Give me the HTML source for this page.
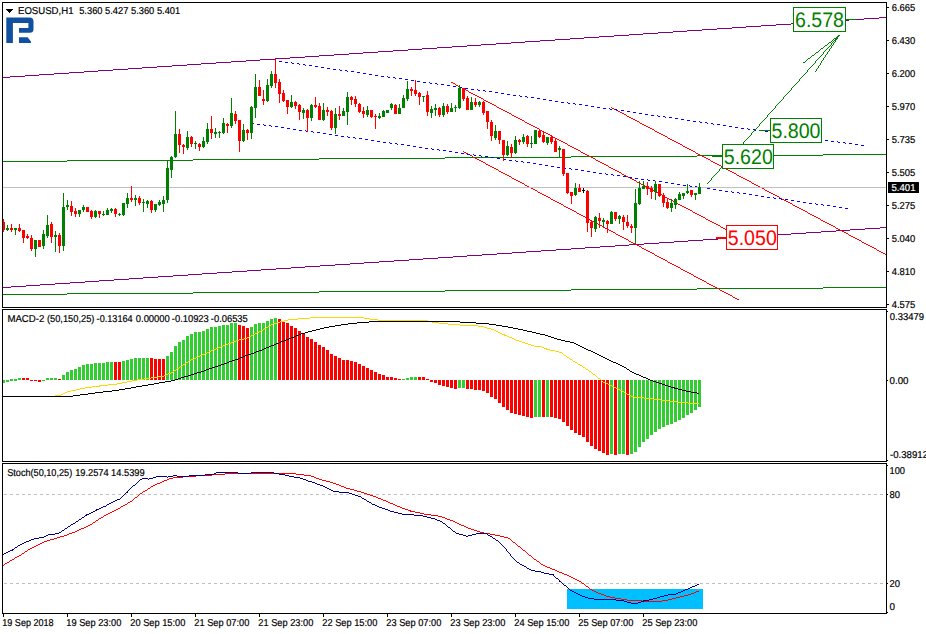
<!DOCTYPE html>
<html lang="en">
<head>
<meta charset="utf-8">
<title>EOSUSD,H1</title>
<style>
html,body{margin:0;padding:0;background:#fff;}
body{width:926px;height:634px;overflow:hidden;font-family:"Liberation Sans",sans-serif;}
svg text{font-family:"Liberation Sans",sans-serif;}
.aa{shape-rendering:geometricPrecision;text-rendering:geometricPrecision;}
</style>
</head>
<body>
<svg width="926" height="634" viewBox="0 0 926 634" shape-rendering="crispEdges" style="display:block"><defs><clipPath id="cm"><rect x="3" y="3" width="883" height="304"/></clipPath><clipPath id="c2"><rect x="3" y="310" width="883" height="151"/></clipPath><clipPath id="c3"><rect x="3" y="464" width="883" height="149"/></clipPath></defs><rect x="0" y="0" width="926" height="634" fill="#fff"/>
<g clip-path="url(#cm)">
<path fill="#008000" d="M3 161h64v1h-64zM67 160h126v1h-126zM193 159h126v1h-126zM319 158h126v1h-126zM445 157h126v1h-126zM571 156h126v1h-126zM697 155h126v1h-126zM823 154h63v1h-63z"/>
<path fill="#008000" d="M3 294h64v1h-64zM67 293h126v1h-126zM193 292h126v1h-126zM319 291h126v1h-126zM445 290h126v1h-126zM571 289h126v1h-126zM697 288h126v1h-126zM823 287h63v1h-63z"/>
<path fill="#800080" d="M3 77h7v1h-7zM10 76h15v1h-15zM25 75h14v1h-14zM39 74h15v1h-15zM54 73h15v1h-15zM69 72h15v1h-15zM84 71h14v1h-14zM98 70h15v1h-15zM113 69h15v1h-15zM128 68h14v1h-14zM142 67h15v1h-15zM157 66h15v1h-15zM172 65h15v1h-15zM187 64h14v1h-14zM201 63h15v1h-15zM216 62h15v1h-15zM231 61h15v1h-15zM246 60h14v1h-14zM260 59h15v1h-15zM275 58h15v1h-15zM290 57h15v1h-15zM305 56h14v1h-14zM319 55h15v1h-15zM334 54h15v1h-15zM349 53h14v1h-14zM363 52h15v1h-15zM378 51h15v1h-15zM393 50h15v1h-15zM408 49h14v1h-14zM422 48h15v1h-15zM437 47h15v1h-15zM452 46h15v1h-15zM467 45h14v1h-14zM481 44h15v1h-15zM496 43h15v1h-15zM511 42h14v1h-14zM525 41h15v1h-15zM540 40h15v1h-15zM555 39h15v1h-15zM570 38h14v1h-14zM584 37h15v1h-15zM599 36h15v1h-15zM614 35h15v1h-15zM629 34h14v1h-14zM643 33h15v1h-15zM658 32h15v1h-15zM673 31h14v1h-14zM687 30h15v1h-15zM702 29h15v1h-15zM717 28h15v1h-15zM732 27h14v1h-14zM746 26h15v1h-15zM761 25h15v1h-15zM776 24h15v1h-15zM791 23h14v1h-14zM805 22h15v1h-15zM820 21h15v1h-15zM835 20h14v1h-14zM849 19h15v1h-15zM864 18h15v1h-15zM879 17h7v1h-7z"/>
<path fill="#800080" d="M3 287h8v1h-8zM11 286h15v1h-15zM26 285h14v1h-14zM40 284h15v1h-15zM55 283h15v1h-15zM70 282h15v1h-15zM85 281h14v1h-14zM99 280h15v1h-15zM114 279h15v1h-15zM129 278h14v1h-14zM143 277h15v1h-15zM158 276h15v1h-15zM173 275h15v1h-15zM188 274h14v1h-14zM202 273h15v1h-15zM217 272h15v1h-15zM232 271h15v1h-15zM247 270h14v1h-14zM261 269h15v1h-15zM276 268h15v1h-15zM291 267h14v1h-14zM305 266h15v1h-15zM320 265h15v1h-15zM335 264h15v1h-15zM350 263h14v1h-14zM364 262h15v1h-15zM379 261h15v1h-15zM394 260h15v1h-15zM409 259h14v1h-14zM423 258h15v1h-15zM438 257h15v1h-15zM453 256h14v1h-14zM467 255h15v1h-15zM482 254h15v1h-15zM497 253h15v1h-15zM512 252h14v1h-14zM526 251h15v1h-15zM541 250h15v1h-15zM556 249h15v1h-15zM571 248h14v1h-14zM585 247h15v1h-15zM600 246h15v1h-15zM615 245h14v1h-14zM629 244h15v1h-15zM644 243h15v1h-15zM659 242h15v1h-15zM674 241h14v1h-14zM688 240h15v1h-15zM703 239h15v1h-15zM718 238h15v1h-15zM733 237h14v1h-14zM747 236h15v1h-15zM762 235h15v1h-15zM777 234h14v1h-14zM791 233h15v1h-15zM806 232h15v1h-15zM821 231h15v1h-15zM836 230h14v1h-14zM850 229h15v1h-15zM865 228h15v1h-15zM880 227h6v1h-6z"/>
<path fill="#ff0000" d="M451 82h2v1h-2zM453 83h2v1h-2zM455 84h1v1h-1zM456 85h2v1h-2zM458 86h2v1h-2zM460 87h2v1h-2zM462 88h2v1h-2zM464 89h2v1h-2zM466 90h2v1h-2zM468 91h1v1h-1zM469 92h2v1h-2zM471 93h2v1h-2zM473 94h2v1h-2zM475 95h2v1h-2zM477 96h2v1h-2zM479 97h2v1h-2zM481 98h2v1h-2zM483 99h1v1h-1zM484 100h2v1h-2zM486 101h2v1h-2zM488 102h2v1h-2zM490 103h2v1h-2zM492 104h2v1h-2zM494 105h2v1h-2zM496 106h1v1h-1zM497 107h2v1h-2zM499 108h2v1h-2zM501 109h2v1h-2zM503 110h2v1h-2zM505 111h2v1h-2zM507 112h2v1h-2zM509 113h2v1h-2zM511 114h1v1h-1zM512 115h2v1h-2zM514 116h2v1h-2zM516 117h2v1h-2zM518 118h2v1h-2zM520 119h2v1h-2zM522 120h2v1h-2zM524 121h1v1h-1zM525 122h2v1h-2zM527 123h2v1h-2zM529 124h2v1h-2zM531 125h2v1h-2zM533 126h2v1h-2zM535 127h2v1h-2zM537 128h2v1h-2zM539 129h1v1h-1zM540 130h2v1h-2zM542 131h2v1h-2zM544 132h2v1h-2zM546 133h2v1h-2zM548 134h2v1h-2zM550 135h2v1h-2zM552 136h1v1h-1zM553 137h2v1h-2zM555 138h2v1h-2zM557 139h2v1h-2zM559 140h2v1h-2zM561 141h2v1h-2zM563 142h2v1h-2zM565 143h2v1h-2zM567 144h1v1h-1zM568 145h2v1h-2zM570 146h2v1h-2zM572 147h2v1h-2zM574 148h2v1h-2zM576 149h2v1h-2zM578 150h2v1h-2zM580 151h1v1h-1zM581 152h2v1h-2zM583 153h2v1h-2zM585 154h2v1h-2zM587 155h2v1h-2zM589 156h2v1h-2zM591 157h2v1h-2zM593 158h2v1h-2zM595 159h1v1h-1zM596 160h2v1h-2zM598 161h2v1h-2zM600 162h2v1h-2zM602 163h2v1h-2zM604 164h2v1h-2zM606 165h2v1h-2zM608 166h1v1h-1zM609 167h2v1h-2zM611 168h2v1h-2zM613 169h2v1h-2zM615 170h2v1h-2zM617 171h2v1h-2zM619 172h2v1h-2zM621 173h1v1h-1zM622 174h2v1h-2zM624 175h2v1h-2zM626 176h2v1h-2zM628 177h2v1h-2zM630 178h2v1h-2zM632 179h2v1h-2zM634 180h2v1h-2zM636 181h1v1h-1zM637 182h2v1h-2zM639 183h2v1h-2zM641 184h2v1h-2zM643 185h2v1h-2zM645 186h2v1h-2zM647 187h2v1h-2zM649 188h1v1h-1zM650 189h2v1h-2zM652 190h2v1h-2zM654 191h2v1h-2zM656 192h2v1h-2zM658 193h2v1h-2zM660 194h2v1h-2zM662 195h2v1h-2zM664 196h1v1h-1zM665 197h2v1h-2zM667 198h2v1h-2zM669 199h2v1h-2zM671 200h2v1h-2zM673 201h2v1h-2zM675 202h2v1h-2zM677 203h1v1h-1zM678 204h2v1h-2zM680 205h2v1h-2zM682 206h2v1h-2zM684 207h2v1h-2zM686 208h2v1h-2zM688 209h2v1h-2zM690 210h2v1h-2zM692 211h1v1h-1zM693 212h2v1h-2zM695 213h2v1h-2zM697 214h2v1h-2zM699 215h2v1h-2zM701 216h2v1h-2zM703 217h2v1h-2zM705 218h1v1h-1zM706 219h2v1h-2zM708 220h2v1h-2zM710 221h2v1h-2zM712 222h2v1h-2zM714 223h2v1h-2zM716 224h2v1h-2zM718 225h2v1h-2zM720 226h1v1h-1zM721 227h2v1h-2zM723 228h2v1h-2zM725 229h2v1h-2z"/>
<path fill="#ff0000" d="M463 151h1v1h-1zM464 152h2v1h-2zM466 153h2v1h-2zM468 154h2v1h-2zM470 155h2v1h-2zM472 156h1v1h-1zM473 157h2v1h-2zM475 158h2v1h-2zM477 159h2v1h-2zM479 160h2v1h-2zM481 161h2v1h-2zM483 162h2v1h-2zM485 163h1v1h-1zM486 164h2v1h-2zM488 165h2v1h-2zM490 166h2v1h-2zM492 167h2v1h-2zM494 168h2v1h-2zM496 169h2v1h-2zM498 170h1v1h-1zM499 171h2v1h-2zM501 172h2v1h-2zM503 173h2v1h-2zM505 174h2v1h-2zM507 175h2v1h-2zM509 176h2v1h-2zM511 177h1v1h-1zM512 178h2v1h-2zM514 179h2v1h-2zM516 180h2v1h-2zM518 181h2v1h-2zM520 182h2v1h-2zM522 183h2v1h-2zM524 184h1v1h-1zM525 185h2v1h-2zM527 186h2v1h-2zM529 187h2v1h-2zM531 188h2v1h-2zM533 189h2v1h-2zM535 190h2v1h-2zM537 191h1v1h-1zM538 192h2v1h-2zM540 193h2v1h-2zM542 194h2v1h-2zM544 195h2v1h-2zM546 196h2v1h-2zM548 197h2v1h-2zM550 198h1v1h-1zM551 199h2v1h-2zM553 200h2v1h-2zM555 201h2v1h-2zM557 202h2v1h-2zM559 203h2v1h-2zM561 204h2v1h-2zM563 205h1v1h-1zM564 206h2v1h-2zM566 207h2v1h-2zM568 208h2v1h-2zM570 209h2v1h-2zM572 210h2v1h-2zM574 211h2v1h-2zM576 212h1v1h-1zM577 213h2v1h-2zM579 214h2v1h-2zM581 215h2v1h-2zM583 216h2v1h-2zM585 217h2v1h-2zM587 218h2v1h-2zM589 219h1v1h-1zM590 220h2v1h-2zM592 221h2v1h-2zM594 222h2v1h-2zM596 223h2v1h-2zM598 224h2v1h-2zM600 225h2v1h-2zM602 226h1v1h-1zM603 227h2v1h-2zM605 228h2v1h-2zM607 229h2v1h-2zM609 230h2v1h-2zM611 231h2v1h-2zM613 232h2v1h-2zM615 233h1v1h-1zM616 234h2v1h-2zM618 235h2v1h-2zM620 236h2v1h-2zM622 237h2v1h-2zM624 238h2v1h-2zM626 239h2v1h-2zM628 240h1v1h-1zM629 241h2v1h-2zM631 242h2v1h-2zM633 243h2v1h-2zM635 244h2v1h-2zM637 245h2v1h-2zM639 246h2v1h-2zM641 247h1v1h-1zM642 248h2v1h-2zM644 249h2v1h-2zM646 250h2v1h-2zM648 251h2v1h-2zM650 252h2v1h-2zM652 253h2v1h-2zM654 254h1v1h-1zM655 255h2v1h-2zM657 256h2v1h-2zM659 257h2v1h-2zM661 258h2v1h-2zM663 259h2v1h-2zM665 260h2v1h-2zM667 261h1v1h-1zM668 262h2v1h-2zM670 263h2v1h-2zM672 264h2v1h-2zM674 265h2v1h-2zM676 266h2v1h-2zM678 267h2v1h-2zM680 268h1v1h-1zM681 269h2v1h-2zM683 270h2v1h-2zM685 271h2v1h-2zM687 272h2v1h-2zM689 273h2v1h-2zM691 274h2v1h-2zM693 275h1v1h-1zM694 276h2v1h-2zM696 277h2v1h-2zM698 278h2v1h-2zM700 279h2v1h-2zM702 280h2v1h-2zM704 281h2v1h-2zM706 282h1v1h-1zM707 283h2v1h-2zM709 284h2v1h-2zM711 285h2v1h-2zM713 286h2v1h-2zM715 287h2v1h-2zM717 288h2v1h-2zM719 289h1v1h-1zM720 290h2v1h-2zM722 291h2v1h-2zM724 292h2v1h-2zM726 293h2v1h-2zM728 294h2v1h-2zM730 295h2v1h-2zM732 296h1v1h-1zM733 297h2v1h-2zM735 298h2v1h-2zM737 299h2v1h-2z"/>
<path fill="#ff0000" d="M611 107h1v1h-1zM612 108h2v1h-2zM614 109h2v1h-2zM616 110h2v1h-2zM618 111h2v1h-2zM620 112h2v1h-2zM622 113h2v1h-2zM624 114h2v1h-2zM626 115h1v1h-1zM627 116h2v1h-2zM629 117h2v1h-2zM631 118h2v1h-2zM633 119h2v1h-2zM635 120h2v1h-2zM637 121h2v1h-2zM639 122h1v1h-1zM640 123h2v1h-2zM642 124h2v1h-2zM644 125h2v1h-2zM646 126h2v1h-2zM648 127h2v1h-2zM650 128h2v1h-2zM652 129h2v1h-2zM654 130h1v1h-1zM655 131h2v1h-2zM657 132h2v1h-2zM659 133h2v1h-2zM661 134h2v1h-2zM663 135h2v1h-2zM665 136h2v1h-2zM667 137h1v1h-1zM668 138h2v1h-2zM670 139h2v1h-2zM672 140h2v1h-2zM674 141h2v1h-2zM676 142h2v1h-2zM678 143h2v1h-2zM680 144h2v1h-2zM682 145h1v1h-1zM683 146h2v1h-2zM685 147h2v1h-2zM687 148h2v1h-2zM689 149h2v1h-2zM691 150h2v1h-2zM693 151h2v1h-2zM695 152h1v1h-1zM696 153h2v1h-2zM698 154h2v1h-2zM700 155h2v1h-2zM702 156h2v1h-2zM704 157h2v1h-2zM706 158h2v1h-2zM708 159h2v1h-2zM710 160h1v1h-1zM711 161h2v1h-2zM713 162h2v1h-2zM715 163h2v1h-2zM717 164h2v1h-2zM719 165h2v1h-2zM721 166h2v1h-2zM723 167h1v1h-1zM724 168h2v1h-2zM726 169h2v1h-2zM728 170h2v1h-2zM730 171h2v1h-2zM732 172h2v1h-2zM734 173h2v1h-2zM736 174h1v1h-1zM737 175h2v1h-2zM739 176h2v1h-2zM741 177h2v1h-2zM743 178h2v1h-2zM745 179h2v1h-2zM747 180h2v1h-2zM749 181h2v1h-2zM751 182h1v1h-1zM752 183h2v1h-2zM754 184h2v1h-2zM756 185h2v1h-2zM758 186h2v1h-2zM760 187h2v1h-2zM762 188h2v1h-2zM764 189h1v1h-1zM765 190h2v1h-2zM767 191h2v1h-2zM769 192h2v1h-2zM771 193h2v1h-2zM773 194h2v1h-2zM775 195h2v1h-2zM777 196h2v1h-2zM779 197h1v1h-1zM780 198h2v1h-2zM782 199h2v1h-2zM784 200h2v1h-2zM786 201h2v1h-2zM788 202h2v1h-2zM790 203h2v1h-2zM792 204h1v1h-1zM793 205h2v1h-2zM795 206h2v1h-2zM797 207h2v1h-2zM799 208h2v1h-2zM801 209h2v1h-2zM803 210h2v1h-2zM805 211h2v1h-2zM807 212h1v1h-1zM808 213h2v1h-2zM810 214h2v1h-2zM812 215h2v1h-2zM814 216h2v1h-2zM816 217h2v1h-2zM818 218h2v1h-2zM820 219h1v1h-1zM821 220h2v1h-2zM823 221h2v1h-2zM825 222h2v1h-2zM827 223h2v1h-2zM829 224h2v1h-2zM831 225h2v1h-2zM833 226h2v1h-2zM835 227h1v1h-1zM836 228h2v1h-2zM838 229h2v1h-2zM840 230h2v1h-2zM842 231h2v1h-2zM844 232h2v1h-2zM846 233h2v1h-2zM848 234h1v1h-1zM849 235h2v1h-2zM851 236h2v1h-2zM853 237h2v1h-2zM855 238h2v1h-2zM857 239h2v1h-2zM859 240h2v1h-2zM861 241h1v1h-1zM862 242h2v1h-2zM864 243h2v1h-2zM866 244h2v1h-2zM868 245h2v1h-2zM870 246h2v1h-2zM872 247h2v1h-2zM874 248h2v1h-2zM876 249h1v1h-1zM877 250h2v1h-2zM879 251h2v1h-2zM881 252h2v1h-2zM883 253h2v1h-2zM885 254h1v1h-1z"/>
<path fill="#0000ff" d="M275 60h1v1h-1zM279 61h3v1h-3zM285 62h3v1h-3zM291 62h1v1h-1zM292 63h2v1h-2zM297 63h2v1h-2zM299 64h1v1h-1zM303 64h2v1h-2zM305 65h1v1h-1zM309 65h3v1h-3zM315 66h3v1h-3zM321 67h3v1h-3zM327 68h3v1h-3zM333 69h3v1h-3zM339 69h1v1h-1zM340 70h2v1h-2zM345 70h2v1h-2zM347 71h1v1h-1zM351 71h3v1h-3zM357 72h3v1h-3zM363 73h3v1h-3zM369 74h3v1h-3zM375 75h3v1h-3zM381 76h3v1h-3zM387 76h1v1h-1zM388 77h2v1h-2zM393 77h2v1h-2zM395 78h1v1h-1zM399 78h3v1h-3zM405 79h3v1h-3zM411 80h3v1h-3zM417 81h3v1h-3zM423 82h3v1h-3zM429 82h1v1h-1zM430 83h2v1h-2zM435 83h2v1h-2zM437 84h1v1h-1zM441 84h3v1h-3zM447 85h3v1h-3zM453 86h3v1h-3zM459 87h3v1h-3zM465 88h3v1h-3zM471 89h3v1h-3zM477 89h1v1h-1zM478 90h2v1h-2zM483 90h2v1h-2zM485 91h1v1h-1zM489 91h3v1h-3zM495 92h3v1h-3zM501 93h3v1h-3zM507 94h3v1h-3zM513 95h3v1h-3zM519 95h1v1h-1zM520 96h2v1h-2zM525 96h2v1h-2zM527 97h1v1h-1zM531 97h3v1h-3zM537 98h3v1h-3zM543 99h3v1h-3zM549 100h3v1h-3zM555 101h3v1h-3zM561 102h3v1h-3zM567 102h1v1h-1zM568 103h2v1h-2zM573 103h2v1h-2zM575 104h1v1h-1zM579 104h3v1h-3zM585 105h3v1h-3zM591 106h3v1h-3zM597 107h3v1h-3zM603 108h3v1h-3zM609 108h1v1h-1zM610 109h2v1h-2zM615 109h2v1h-2zM617 110h1v1h-1zM621 110h3v1h-3zM627 111h3v1h-3zM633 112h3v1h-3zM639 113h3v1h-3zM645 114h3v1h-3zM651 115h3v1h-3zM657 115h1v1h-1zM658 116h2v1h-2zM663 116h2v1h-2zM665 117h1v1h-1zM669 117h3v1h-3zM675 118h3v1h-3zM681 119h3v1h-3zM687 120h3v1h-3zM693 121h3v1h-3zM699 121h1v1h-1zM700 122h2v1h-2zM705 122h2v1h-2zM707 123h1v1h-1zM711 123h2v1h-2zM713 124h1v1h-1zM717 124h3v1h-3zM723 125h3v1h-3zM729 126h3v1h-3zM735 127h3v1h-3zM741 128h3v1h-3zM747 128h1v1h-1zM748 129h2v1h-2zM753 129h2v1h-2zM755 130h1v1h-1zM759 130h3v1h-3zM765 131h3v1h-3zM771 132h3v1h-3zM777 133h3v1h-3zM783 134h3v1h-3zM789 134h1v1h-1zM790 135h2v1h-2zM795 135h1v1h-1zM796 136h2v1h-2zM801 136h2v1h-2zM803 137h1v1h-1zM807 137h3v1h-3zM813 138h3v1h-3zM819 139h3v1h-3zM825 140h3v1h-3zM831 141h3v1h-3zM837 141h1v1h-1zM838 142h2v1h-2zM843 142h2v1h-2zM845 143h1v1h-1zM849 143h3v1h-3zM855 144h3v1h-3zM861 145h3v1h-3z"/>
<path fill="#0000ff" d="M253 123h1v1h-1zM257 124h3v1h-3zM263 124h1v1h-1zM264 125h2v1h-2zM269 125h2v1h-2zM271 126h1v1h-1zM275 126h3v1h-3zM281 127h3v1h-3zM287 128h3v1h-3zM293 129h3v1h-3zM299 130h3v1h-3zM305 130h1v1h-1zM306 131h2v1h-2zM311 131h2v1h-2zM313 132h1v1h-1zM317 132h3v1h-3zM323 133h3v1h-3zM329 134h3v1h-3zM335 135h3v1h-3zM341 136h3v1h-3zM347 136h1v1h-1zM348 137h2v1h-2zM353 137h2v1h-2zM355 138h1v1h-1zM359 138h3v1h-3zM365 139h3v1h-3zM371 140h3v1h-3zM377 141h3v1h-3zM383 142h3v1h-3zM389 142h1v1h-1zM390 143h2v1h-2zM395 143h2v1h-2zM397 144h1v1h-1zM401 144h3v1h-3zM407 145h3v1h-3zM413 146h3v1h-3zM419 147h3v1h-3zM425 148h3v1h-3zM431 148h1v1h-1zM432 149h2v1h-2zM437 149h2v1h-2zM439 150h1v1h-1zM443 150h3v1h-3zM449 151h3v1h-3zM455 152h3v1h-3zM461 153h3v1h-3zM467 154h3v1h-3zM473 154h1v1h-1zM474 155h2v1h-2zM479 155h2v1h-2zM481 156h1v1h-1zM485 156h3v1h-3zM491 157h3v1h-3zM497 158h3v1h-3zM503 159h3v1h-3zM509 160h3v1h-3zM515 160h1v1h-1zM516 161h2v1h-2zM521 161h2v1h-2zM523 162h1v1h-1zM527 162h3v1h-3zM533 163h3v1h-3zM539 164h3v1h-3zM545 165h3v1h-3zM551 166h3v1h-3zM557 167h3v1h-3zM563 167h1v1h-1zM564 168h2v1h-2zM569 168h2v1h-2zM571 169h1v1h-1zM575 169h3v1h-3zM581 170h3v1h-3zM587 171h3v1h-3zM593 172h3v1h-3zM599 173h3v1h-3zM605 173h1v1h-1zM606 174h2v1h-2zM611 174h2v1h-2zM613 175h1v1h-1zM617 175h3v1h-3zM623 176h3v1h-3zM629 177h3v1h-3zM635 178h3v1h-3zM641 179h3v1h-3zM647 179h1v1h-1zM648 180h2v1h-2zM653 180h2v1h-2zM655 181h1v1h-1zM659 181h3v1h-3zM665 182h3v1h-3zM671 183h3v1h-3zM677 184h3v1h-3zM683 185h3v1h-3zM689 185h1v1h-1zM690 186h2v1h-2zM695 186h2v1h-2zM697 187h1v1h-1zM701 187h3v1h-3zM707 188h3v1h-3zM713 189h3v1h-3zM719 190h3v1h-3zM725 191h3v1h-3zM731 191h1v1h-1zM732 192h2v1h-2zM737 192h2v1h-2zM739 193h1v1h-1zM743 193h3v1h-3zM749 194h3v1h-3zM755 195h3v1h-3zM761 196h3v1h-3zM767 197h3v1h-3zM773 197h1v1h-1zM774 198h2v1h-2zM779 198h2v1h-2zM781 199h1v1h-1zM785 199h3v1h-3zM791 200h3v1h-3zM797 201h3v1h-3zM803 202h3v1h-3zM809 203h3v1h-3zM815 203h1v1h-1zM816 204h2v1h-2zM821 204h2v1h-2zM823 205h1v1h-1zM827 205h3v1h-3zM833 206h3v1h-3zM839 207h3v1h-3zM845 208h3v1h-3z"/>
<path fill="#008000" d="M707 183h1v1h-1zM708 182h1v1h-1zM709 181h1v1h-1zM710 180h1v1h-1zM711 178h1v2h-1zM712 177h1v1h-1zM713 176h1v1h-1zM714 175h1v1h-1zM715 174h1v1h-1zM716 173h1v1h-1zM717 172h1v1h-1zM718 171h1v1h-1zM719 169h1v2h-1zM720 168h1v1h-1zM721 167h1v1h-1zM722 166h1v1h-1zM723 165h1v1h-1zM724 164h1v1h-1zM725 163h1v1h-1zM726 162h1v1h-1zM727 160h1v2h-1zM728 159h1v1h-1zM729 158h1v1h-1zM730 157h1v1h-1zM731 156h1v1h-1zM732 155h1v1h-1zM733 154h1v1h-1zM734 153h1v1h-1zM735 151h1v2h-1zM736 150h1v1h-1zM737 149h1v1h-1zM738 148h1v1h-1zM739 147h1v1h-1zM740 146h1v1h-1zM741 145h1v1h-1zM742 144h1v1h-1zM743 142h1v2h-1zM744 141h1v1h-1zM745 140h1v1h-1zM746 139h1v1h-1zM747 138h1v1h-1zM748 137h1v1h-1zM749 136h1v1h-1zM750 135h1v1h-1zM751 133h1v2h-1zM752 132h1v1h-1zM753 131h1v1h-1zM754 130h1v1h-1zM755 129h1v1h-1zM756 128h1v1h-1zM757 127h1v1h-1zM758 126h1v1h-1zM759 124h1v2h-1zM760 123h1v1h-1zM761 122h1v1h-1zM762 121h1v1h-1zM763 120h1v1h-1zM764 119h1v1h-1zM765 118h1v1h-1zM766 117h1v1h-1zM767 115h1v2h-1zM768 114h1v1h-1zM769 113h1v1h-1zM770 112h1v1h-1zM771 111h1v1h-1zM772 110h1v1h-1zM773 109h1v1h-1zM774 108h1v1h-1zM775 106h1v2h-1zM776 105h1v1h-1zM777 104h1v1h-1zM778 103h1v1h-1zM779 102h1v1h-1zM780 101h1v1h-1zM781 100h1v1h-1zM782 99h1v1h-1zM783 97h1v2h-1zM784 96h1v1h-1zM785 95h1v1h-1zM786 94h1v1h-1zM787 93h1v1h-1zM788 92h1v1h-1zM789 91h1v1h-1zM790 90h1v1h-1zM791 88h1v2h-1zM792 87h1v1h-1zM793 86h1v1h-1zM794 85h1v1h-1zM795 84h1v1h-1zM796 83h1v1h-1zM797 82h1v1h-1zM798 81h1v1h-1zM799 79h1v2h-1zM800 78h1v1h-1zM801 77h1v1h-1zM802 76h1v1h-1zM803 75h1v1h-1zM804 74h1v1h-1zM805 73h1v1h-1zM806 72h1v1h-1zM807 70h1v2h-1zM808 69h1v1h-1zM809 68h1v1h-1zM810 67h1v1h-1zM811 66h1v1h-1zM812 65h1v1h-1zM813 64h1v1h-1zM814 63h1v1h-1zM815 61h1v2h-1zM816 60h1v1h-1zM817 59h1v1h-1zM818 58h1v1h-1zM819 57h1v1h-1zM820 56h1v1h-1zM821 55h1v1h-1zM822 54h1v1h-1zM823 52h1v2h-1zM824 51h1v1h-1zM825 50h1v1h-1zM826 49h1v1h-1zM827 48h1v1h-1zM828 47h1v1h-1zM829 46h1v1h-1zM830 45h1v1h-1zM831 43h1v2h-1zM832 42h1v1h-1zM833 41h1v1h-1zM834 40h1v1h-1zM835 39h1v1h-1zM836 38h1v1h-1zM837 37h1v1h-1zM838 36h1v1h-1zM839 35h1v1h-1z"/>
<path fill="#008000" d="M803 62h2v1h-2zM805 61h1v1h-1zM806 60h1v1h-1zM807 59h1v1h-1zM808 58h2v1h-2zM810 57h1v1h-1zM811 56h1v1h-1zM812 55h2v1h-2zM814 54h1v1h-1zM815 53h1v1h-1zM816 52h2v1h-2zM818 51h1v1h-1zM819 50h1v1h-1zM820 49h1v1h-1zM821 48h2v1h-2zM823 47h1v1h-1zM824 46h1v1h-1zM825 45h2v1h-2zM827 44h1v1h-1zM828 43h1v1h-1zM829 42h2v1h-2zM831 41h1v1h-1zM832 40h1v1h-1zM833 39h1v1h-1zM834 38h2v1h-2zM836 37h1v1h-1zM837 36h1v1h-1zM838 35h1v1h-1z"/>
<path fill="#008000" d="M815 71h1v1h-1zM816 69h1v2h-1zM817 68h1v1h-1zM818 66h1v2h-1zM819 65h1v1h-1zM820 63h1v2h-1zM821 61h1v2h-1zM822 60h1v1h-1zM823 58h1v2h-1zM824 57h1v1h-1zM825 55h1v2h-1zM826 54h1v1h-1zM827 52h1v2h-1zM828 51h1v1h-1zM829 49h1v2h-1zM830 48h1v1h-1zM831 46h1v2h-1zM832 45h1v1h-1zM833 43h1v2h-1zM834 42h1v1h-1zM835 40h1v2h-1zM836 39h1v1h-1zM837 37h1v2h-1zM838 36h1v1h-1zM839 35h1v1h-1z"/>
</g>
<rect x="846" y="19" width="10" height="1" fill="#008000"/><rect x="793.5" y="7.5" width="52" height="24" fill="#fff" stroke="#008000" stroke-width="1"/><text x="795" y="27.3" font-size="21" fill="#008000" textLength="49" lengthAdjust="spacingAndGlyphs" class="aa">6.578</text>
<rect x="759" y="130" width="11" height="1" fill="#008000"/><rect x="770.5" y="118.5" width="51" height="24" fill="#fff" stroke="#008000" stroke-width="1"/><text x="771.5" y="138.4" font-size="21" fill="#008000" textLength="49" lengthAdjust="spacingAndGlyphs" class="aa">5.800</text>
<rect x="712" y="155" width="10" height="2" fill="#008000"/><rect x="722.5" y="144.5" width="51" height="24" fill="#fff" stroke="#008000" stroke-width="1"/><text x="723.8" y="164.3" font-size="21" fill="#008000" textLength="49" lengthAdjust="spacingAndGlyphs" class="aa">5.620</text>
<rect x="716" y="237" width="10" height="2" fill="#ff0000"/><rect x="726.5" y="225.5" width="51" height="24" fill="#fff" stroke="#ff0000" stroke-width="1"/><text x="727.8" y="245.4" font-size="21" fill="#ff0000" textLength="49" lengthAdjust="spacingAndGlyphs" class="aa">5.050</text>
<g clip-path="url(#cm)">
<rect x="3" y="187" width="883" height="1" fill="#c0c0c0"/>
<path fill="#008000" d="M7 225h1v6h-1zM6 228h3v2h-3zM15 228h1v7h-1zM14 228h3v2h-3zM35 240h1v17h-1zM34 240h3v9h-3zM43 230h1v19h-1zM42 234h3v12h-3zM47 215h1v23h-1zM46 225h3v11h-3zM55 231h1v21h-1zM54 235h3v2h-3zM63 193h1v58h-1zM62 207h3v39h-3zM67 200h1v10h-1zM66 205h3v2h-3zM79 210h1v7h-1zM78 210h3v4h-3zM83 205h1v7h-1zM82 207h3v3h-3zM95 210h1v8h-1zM94 211h3v6h-3zM103 211h1v5h-1zM102 214h3v1h-3zM107 208h1v7h-1zM106 210h3v5h-3zM111 208h1v5h-1zM110 209h3v2h-3zM119 213h1v3h-1zM118 214h3v1h-3zM123 203h1v13h-1zM122 203h3v12h-3zM127 193h1v15h-1zM126 198h3v6h-3zM135 195h1v11h-1zM134 198h3v2h-3zM143 199h1v13h-1zM142 202h3v1h-3zM147 200h1v8h-1zM146 201h3v3h-3zM155 204h1v8h-1zM154 204h3v6h-3zM159 200h1v6h-1zM158 202h3v3h-3zM163 196h1v16h-1zM162 200h3v4h-3zM167 161h1v42h-1zM166 168h3v32h-3zM171 156h1v22h-1zM170 157h3v13h-3zM175 111h1v47h-1zM174 134h3v23h-3zM187 131h1v19h-1zM186 137h3v11h-3zM195 141h1v8h-1zM194 143h3v1h-3zM203 137h1v11h-1zM202 141h3v6h-3zM207 123h1v21h-1zM206 129h3v13h-3zM215 128h1v10h-1zM214 132h3v2h-3zM219 131h1v7h-1zM218 132h3v1h-3zM223 118h1v16h-1zM222 123h3v10h-3zM231 98h1v30h-1zM230 113h3v13h-3zM243 124h1v18h-1zM242 130h3v11h-3zM251 106h1v33h-1zM250 107h3v26h-3zM255 74h1v44h-1zM254 87h3v21h-3zM267 79h1v23h-1zM266 85h3v16h-3zM271 71h1v17h-1zM270 74h3v12h-3zM291 95h1v13h-1zM290 102h3v5h-3zM303 108h1v11h-1zM302 110h3v3h-3zM311 104h1v17h-1zM310 105h3v13h-3zM323 103h1v18h-1zM322 110h3v10h-3zM335 108h1v26h-1zM334 114h3v14h-3zM343 108h1v8h-1zM342 111h3v5h-3zM347 92h1v33h-1zM346 97h3v15h-3zM367 106h1v11h-1zM366 110h3v5h-3zM379 113h1v6h-1zM378 116h3v2h-3zM383 110h1v7h-1zM382 111h3v6h-3zM387 110h1v3h-1zM386 110h3v3h-3zM391 103h1v7h-1zM390 104h3v4h-3zM399 104h1v10h-1zM398 108h3v6h-3zM403 95h1v13h-1zM402 98h3v10h-3zM407 81h1v20h-1zM406 89h3v10h-3zM423 96h1v6h-1zM422 96h3v1h-3zM431 106h1v12h-1zM430 109h3v4h-3zM435 104h1v12h-1zM434 108h3v2h-3zM443 103h1v14h-1zM442 106h3v9h-3zM451 103h1v9h-1zM450 108h3v4h-3zM455 105h1v7h-1zM454 107h3v1h-3zM459 85h1v24h-1zM458 88h3v20h-3zM471 97h1v13h-1zM470 102h3v8h-3zM479 101h1v6h-1zM478 102h3v3h-3zM495 125h1v15h-1zM494 131h3v7h-3zM507 141h1v15h-1zM506 146h3v9h-3zM515 136h1v18h-1zM514 140h3v13h-3zM523 134h1v10h-1zM522 137h3v5h-3zM531 136h1v12h-1zM530 143h3v1h-3zM535 130h1v14h-1zM534 130h3v14h-3zM547 137h1v8h-1zM546 137h3v6h-3zM559 146h1v12h-1zM558 148h3v2h-3zM575 183h1v13h-1zM574 188h3v7h-3zM595 216h1v16h-1zM594 217h3v12h-3zM603 218h1v9h-1zM602 220h3v2h-3zM611 211h1v13h-1zM610 212h3v12h-3zM619 215h1v9h-1zM618 216h3v3h-3zM635 189h1v55h-1zM634 203h3v25h-3zM639 181h1v24h-1zM638 188h3v16h-3zM643 181h1v8h-1zM642 186h3v3h-3zM655 181h1v19h-1zM654 184h3v8h-3zM671 199h1v13h-1zM670 203h3v5h-3zM675 198h1v11h-1zM674 199h3v6h-3zM679 192h1v8h-1zM678 194h3v6h-3zM683 193h1v6h-1zM682 193h3v3h-3zM687 184h1v10h-1zM686 191h3v2h-3zM695 193h1v7h-1zM694 193h3v2h-3zM699 183h1v11h-1zM698 187h3v7h-3z"/>
<path fill="#ff0000" d="M3 219h1v13h-1zM2 222h3v8h-3zM11 224h1v8h-1zM10 228h3v2h-3zM19 224h1v8h-1zM18 228h3v3h-3zM23 230h1v13h-1zM22 230h3v8h-3zM27 234h1v5h-1zM26 236h3v2h-3zM31 235h1v16h-1zM30 238h3v11h-3zM39 240h1v7h-1zM38 240h3v7h-3zM51 222h1v21h-1zM50 224h3v13h-3zM59 233h1v20h-1zM58 235h3v11h-3zM71 201h1v15h-1zM70 206h3v6h-3zM75 208h1v9h-1zM74 211h3v3h-3zM87 207h1v5h-1zM86 207h3v5h-3zM91 210h1v9h-1zM90 211h3v6h-3zM99 211h1v7h-1zM98 211h3v3h-3zM115 208h1v9h-1zM114 209h3v5h-3zM131 186h1v16h-1zM130 198h3v2h-3zM139 196h1v9h-1zM138 198h3v5h-3zM151 200h1v13h-1zM150 201h3v9h-3zM179 129h1v24h-1zM178 134h3v11h-3zM183 144h1v10h-1zM182 145h3v2h-3zM191 136h1v11h-1zM190 137h3v7h-3zM199 143h1v8h-1zM198 144h3v3h-3zM211 116h1v23h-1zM210 129h3v4h-3zM227 123h1v10h-1zM226 124h3v2h-3zM235 111h1v13h-1zM234 114h3v7h-3zM239 120h1v32h-1zM238 120h3v21h-3zM247 129h1v11h-1zM246 130h3v3h-3zM259 80h1v16h-1zM258 87h3v9h-3zM263 90h1v15h-1zM262 99h3v2h-3zM275 59h1v29h-1zM274 74h3v9h-3zM279 79h1v24h-1zM278 82h3v12h-3zM283 90h1v12h-1zM282 93h3v8h-3zM287 100h1v14h-1zM286 100h3v7h-3zM295 101h1v8h-1zM294 102h3v4h-3zM299 104h1v16h-1zM298 105h3v7h-3zM307 109h1v23h-1zM306 110h3v8h-3zM315 97h1v11h-1zM314 105h3v2h-3zM319 103h1v17h-1zM318 106h3v14h-3zM327 107h1v9h-1zM326 110h3v2h-3zM331 110h1v20h-1zM330 111h3v17h-3zM339 106h1v14h-1zM338 114h3v2h-3zM351 96h1v9h-1zM350 97h3v3h-3zM355 96h1v11h-1zM354 99h3v5h-3zM359 103h1v10h-1zM358 104h3v8h-3zM363 107h1v11h-1zM362 111h3v3h-3zM371 110h1v8h-1zM370 110h3v7h-3zM375 114h1v15h-1zM374 116h3v1h-3zM395 104h1v10h-1zM394 105h3v9h-3zM411 87h1v9h-1zM410 89h3v2h-3zM415 80h1v16h-1zM414 90h3v4h-3zM419 92h1v13h-1zM418 93h3v4h-3zM427 91h1v25h-1zM426 95h3v17h-3zM439 107h1v10h-1zM438 108h3v7h-3zM447 104h1v10h-1zM446 106h3v6h-3zM463 88h1v13h-1zM462 88h3v11h-3zM467 96h1v14h-1zM466 98h3v12h-3zM475 98h1v9h-1zM474 102h3v3h-3zM483 101h1v14h-1zM482 102h3v11h-3zM487 111h1v18h-1zM486 111h3v11h-3zM491 120h1v21h-1zM490 122h3v14h-3zM499 131h1v13h-1zM498 131h3v9h-3zM503 140h1v21h-1zM502 140h3v15h-3zM511 144h1v14h-1zM510 147h3v6h-3zM519 139h1v6h-1zM518 140h3v2h-3zM527 135h1v12h-1zM526 136h3v8h-3zM539 130h1v8h-1zM538 131h3v6h-3zM543 132h1v11h-1zM542 135h3v7h-3zM551 135h1v9h-1zM550 137h3v5h-3zM555 138h1v14h-1zM554 141h3v11h-3zM563 149h1v27h-1zM562 149h3v25h-3zM567 173h1v21h-1zM566 173h3v20h-3zM571 192h1v12h-1zM570 192h3v4h-3zM579 184h1v8h-1zM578 188h3v4h-3zM587 190h1v42h-1zM586 191h3v32h-3zM591 221h1v16h-1zM590 222h3v6h-3zM599 213h1v15h-1zM598 218h3v3h-3zM607 220h1v13h-1zM606 221h3v3h-3zM615 212h1v9h-1zM614 212h3v7h-3zM623 215h1v15h-1zM622 217h3v5h-3zM627 215h1v13h-1zM626 222h3v4h-3zM631 224h1v9h-1zM630 226h3v2h-3zM647 182h1v13h-1zM646 186h3v3h-3zM651 186h1v13h-1zM650 188h3v4h-3zM659 184h1v13h-1zM658 184h3v12h-3zM663 193h1v14h-1zM662 195h3v8h-3zM667 198h1v11h-1zM666 202h3v6h-3zM691 190h1v7h-1zM690 190h3v5h-3z"/>
<path fill="#000000" d="M583 188h1v5h-1zM582 190h3v1h-3z"/>
</g>
<g clip-path="url(#c2)">
<path fill="#32cd32" d="M2 380h3v3h-3zM6 380h3v2h-3zM10 379h3v2h-3zM14 379h3v2h-3zM18 378h3v2h-3zM42 380h3v1h-3zM46 378h3v2h-3zM50 378h3v2h-3zM54 378h3v2h-3zM62 375h3v5h-3zM66 372h3v8h-3zM70 370h3v10h-3zM74 369h3v11h-3zM78 367h3v13h-3zM82 365h3v15h-3zM86 364h3v16h-3zM90 364h3v16h-3zM94 363h3v17h-3zM98 363h3v17h-3zM102 363h3v17h-3zM106 362h3v18h-3zM110 362h3v18h-3zM122 361h3v19h-3zM126 360h3v20h-3zM130 359h3v21h-3zM134 358h3v22h-3zM138 358h3v22h-3zM142 358h3v22h-3zM146 358h3v22h-3zM166 356h3v24h-3zM170 352h3v28h-3zM174 346h3v34h-3zM178 342h3v38h-3zM182 340h3v40h-3zM186 336h3v44h-3zM190 334h3v46h-3zM194 332h3v48h-3zM198 332h3v48h-3zM202 331h3v49h-3zM206 329h3v51h-3zM210 327h3v53h-3zM214 327h3v53h-3zM218 326h3v54h-3zM222 325h3v55h-3zM226 325h3v55h-3zM230 323h3v57h-3zM234 323h3v57h-3zM250 327h3v53h-3zM254 324h3v56h-3zM258 323h3v57h-3zM262 323h3v57h-3zM266 321h3v59h-3zM270 319h3v61h-3zM274 318h3v62h-3zM402 379h3v1h-3zM406 378h3v2h-3zM410 377h3v3h-3zM414 377h3v3h-3zM458 380h3v8h-3zM462 380h3v8h-3zM534 380h3v37h-3zM538 380h3v37h-3zM546 380h3v37h-3zM610 380h3v74h-3zM618 380h3v74h-3zM622 380h3v74h-3zM630 380h3v74h-3zM634 380h3v72h-3zM638 380h3v67h-3zM642 380h3v62h-3zM646 380h3v59h-3zM650 380h3v55h-3zM654 380h3v52h-3zM658 380h3v49h-3zM662 380h3v47h-3zM666 380h3v45h-3zM670 380h3v44h-3zM674 380h3v42h-3zM678 380h3v40h-3zM682 380h3v38h-3zM686 380h3v35h-3zM690 380h3v33h-3zM694 380h3v30h-3zM698 380h3v27h-3z"/>
<path fill="#ff0000" d="M22 378h3v2h-3zM26 378h3v2h-3zM30 380h3v1h-3zM34 380h3v1h-3zM38 380h3v2h-3zM58 379h3v1h-3zM114 362h3v18h-3zM118 362h3v18h-3zM150 358h3v22h-3zM154 359h3v21h-3zM158 359h3v21h-3zM162 359h3v21h-3zM238 325h3v55h-3zM242 326h3v54h-3zM246 328h3v52h-3zM278 319h3v61h-3zM282 322h3v58h-3zM286 323h3v57h-3zM290 326h3v54h-3zM294 328h3v52h-3zM298 331h3v49h-3zM302 334h3v46h-3zM306 337h3v43h-3zM310 339h3v41h-3zM314 342h3v38h-3zM318 345h3v35h-3zM322 347h3v33h-3zM326 350h3v30h-3zM330 354h3v26h-3zM334 356h3v24h-3zM338 358h3v22h-3zM342 360h3v20h-3zM346 360h3v20h-3zM350 361h3v19h-3zM354 362h3v18h-3zM358 364h3v16h-3zM362 366h3v14h-3zM366 368h3v12h-3zM370 370h3v10h-3zM374 372h3v8h-3zM378 374h3v6h-3zM382 375h3v5h-3zM386 377h3v3h-3zM390 377h3v3h-3zM394 378h3v2h-3zM398 379h3v1h-3zM418 377h3v3h-3zM422 377h3v3h-3zM426 379h3v1h-3zM430 380h3v2h-3zM434 380h3v3h-3zM438 380h3v5h-3zM442 380h3v6h-3zM446 380h3v7h-3zM450 380h3v8h-3zM454 380h3v9h-3zM466 380h3v9h-3zM470 380h3v9h-3zM474 380h3v10h-3zM478 380h3v10h-3zM482 380h3v11h-3zM486 380h3v13h-3zM490 380h3v17h-3zM494 380h3v19h-3zM498 380h3v23h-3zM502 380h3v27h-3zM506 380h3v30h-3zM510 380h3v33h-3zM514 380h3v34h-3zM518 380h3v35h-3zM522 380h3v36h-3zM526 380h3v37h-3zM530 380h3v38h-3zM542 380h3v37h-3zM550 380h3v37h-3zM554 380h3v38h-3zM558 380h3v39h-3zM562 380h3v42h-3zM566 380h3v46h-3zM570 380h3v50h-3zM574 380h3v53h-3zM578 380h3v55h-3zM582 380h3v57h-3zM586 380h3v62h-3zM590 380h3v66h-3zM594 380h3v69h-3zM598 380h3v71h-3zM602 380h3v73h-3zM606 380h3v75h-3zM614 380h3v75h-3zM626 380h3v75h-3z"/>
<path fill="#ffd700" d="M3 396h52v1h-52zM55 395h6v1h-6zM61 394h2v1h-2zM63 393h2v1h-2zM65 392h2v1h-2zM67 391h4v1h-4zM71 390h5v1h-5zM76 389h4v1h-4zM80 388h5v1h-5zM85 387h7v1h-7zM92 386h8v1h-8zM99 385h9v1h-9zM108 384h9v1h-9zM117 383h5v1h-5zM122 382h5v1h-5zM127 381h5v1h-5zM132 380h5v1h-5zM137 379h7v1h-7zM144 378h7v1h-7zM151 377h7v1h-7zM158 376h6v1h-6zM164 375h2v1h-2zM166 374h2v1h-2zM168 373h3v1h-3zM171 372h2v1h-2zM173 371h1v1h-1zM174 370h2v1h-2zM176 369h1v1h-1zM177 368h2v1h-2zM179 367h1v1h-1zM180 366h2v1h-2zM182 365h1v1h-1zM183 364h2v1h-2zM185 363h1v1h-1zM186 362h2v1h-2zM188 361h1v1h-1zM189 360h2v1h-2zM191 359h3v1h-3zM194 358h2v1h-2zM196 357h2v1h-2zM198 356h2v1h-2zM200 355h2v1h-2zM202 354h3v1h-3zM205 353h2v1h-2zM207 352h2v1h-2zM209 351h2v1h-2zM211 350h2v1h-2zM213 349h3v1h-3zM216 348h2v1h-2zM218 347h3v1h-3zM221 346h2v1h-2zM223 345h3v1h-3zM226 344h2v1h-2zM228 343h3v1h-3zM231 342h2v1h-2zM233 341h3v1h-3zM236 340h3v1h-3zM239 339h5v1h-5zM244 338h3v1h-3zM247 337h2v1h-2zM249 336h2v1h-2zM251 335h2v1h-2zM253 334h2v1h-2zM255 333h2v1h-2zM257 332h2v1h-2zM259 331h2v1h-2zM261 330h2v1h-2zM263 329h1v1h-1zM264 328h2v1h-2zM266 327h2v1h-2zM268 326h2v1h-2zM270 325h1v1h-1zM271 324h2v1h-2zM273 323h4v1h-4zM277 322h3v1h-3zM280 321h4v1h-4zM284 320h4v1h-4zM288 319h10v1h-10zM298 318h12v1h-12zM310 317h54v1h-54zM364 318h6v1h-6zM370 319h8v1h-8zM378 320h50v1h-50zM428 321h4v1h-4zM432 322h7v1h-7zM439 323h9v1h-9zM448 324h12v1h-12zM460 325h18v1h-18zM478 326h6v1h-6zM484 327h3v1h-3zM487 328h4v1h-4zM491 329h3v1h-3zM494 330h2v1h-2zM496 331h2v1h-2zM498 332h2v1h-2zM500 333h2v1h-2zM502 334h3v1h-3zM504 335h3v1h-3zM507 336h2v1h-2zM509 337h3v1h-3zM512 338h2v1h-2zM514 339h2v1h-2zM516 340h3v1h-3zM519 341h3v1h-3zM522 342h3v1h-3zM525 343h3v1h-3zM528 344h3v1h-3zM531 345h3v1h-3zM534 346h8v1h-8zM542 347h2v1h-2zM544 348h3v1h-3zM546 349h4v1h-4zM550 350h5v1h-5zM555 351h4v1h-4zM559 352h3v1h-3zM562 353h1v1h-1zM563 354h1v1h-1zM564 355h2v1h-2zM566 356h1v1h-1zM567 357h2v1h-2zM569 358h1v1h-1zM570 359h2v1h-2zM572 360h1v1h-1zM573 361h2v1h-2zM575 362h2v1h-2zM577 363h1v1h-1zM578 364h2v1h-2zM580 365h2v1h-2zM582 366h1v1h-1zM583 367h2v1h-2zM585 368h1v1h-1zM586 369h2v1h-2zM588 370h1v1h-1zM589 371h2v1h-2zM591 372h1v1h-1zM592 373h1v1h-1zM593 374h2v1h-2zM595 375h1v1h-1zM596 376h1v1h-1zM597 377h1v1h-1zM598 378h2v1h-2zM600 379h1v1h-1zM601 380h1v1h-1zM602 381h1v1h-1zM603 382h3v1h-3zM606 383h2v1h-2zM608 384h2v1h-2zM610 385h2v1h-2zM612 386h2v1h-2zM614 387h2v1h-2zM616 388h2v1h-2zM618 389h2v1h-2zM620 390h2v1h-2zM622 391h2v1h-2zM624 392h1v1h-1zM625 393h2v1h-2zM627 394h2v1h-2zM629 395h2v1h-2zM631 396h3v1h-3zM634 397h10v1h-10zM644 398h9v1h-9zM653 399h8v1h-8zM661 400h8v1h-8zM669 401h8v1h-8zM677 402h11v1h-11zM688 403h11v1h-11z"/>
<path fill="#000" d="M3 396h70v1h-70zM73 395h7v1h-7zM80 394h8v1h-8zM88 393h7v1h-7zM95 392h8v1h-8zM103 391h9v1h-9zM112 390h7v1h-7zM119 389h6v1h-6zM125 388h6v1h-6zM131 387h5v1h-5zM136 386h6v1h-6zM142 385h6v1h-6zM148 384h6v1h-6zM154 383h5v1h-5zM159 382h6v1h-6zM165 381h6v1h-6zM171 380h4v1h-4zM175 379h3v1h-3zM178 378h3v1h-3zM181 377h3v1h-3zM184 376h4v1h-4zM188 375h3v1h-3zM191 374h3v1h-3zM194 373h3v1h-3zM197 372h4v1h-4zM201 371h3v1h-3zM204 370h2v1h-2zM206 369h3v1h-3zM209 368h3v1h-3zM212 367h3v1h-3zM215 366h3v1h-3zM218 365h3v1h-3zM221 364h3v1h-3zM224 363h3v1h-3zM227 362h2v1h-2zM229 361h3v1h-3zM232 360h3v1h-3zM235 359h3v1h-3zM238 358h2v1h-2zM240 357h3v1h-3zM243 356h2v1h-2zM245 355h3v1h-3zM248 354h3v1h-3zM251 353h3v1h-3zM254 352h2v1h-2zM256 351h3v1h-3zM259 350h3v1h-3zM262 349h2v1h-2zM264 348h2v1h-2zM266 347h3v1h-3zM269 346h2v1h-2zM271 345h3v1h-3zM274 344h2v1h-2zM276 343h3v1h-3zM279 342h2v1h-2zM281 341h3v1h-3zM284 340h2v1h-2zM286 339h3v1h-3zM289 338h2v1h-2zM291 337h3v1h-3zM294 336h2v1h-2zM296 335h3v1h-3zM299 334h2v1h-2zM301 333h4v1h-4zM305 332h3v1h-3zM308 331h4v1h-4zM312 330h4v1h-4zM316 329h4v1h-4zM320 328h4v1h-4zM324 327h5v1h-5zM329 326h6v1h-6zM335 325h6v1h-6zM341 324h7v1h-7zM348 323h9v1h-9zM357 322h12v1h-12zM369 321h91v1h-91zM460 322h16v1h-16zM476 323h13v1h-13zM489 324h7v1h-7zM496 325h6v1h-6zM502 326h6v1h-6zM508 327h5v1h-5zM513 328h5v1h-5zM518 329h5v1h-5zM523 330h4v1h-4zM527 331h5v1h-5zM532 332h4v1h-4zM536 333h4v1h-4zM540 334h5v1h-5zM545 335h3v1h-3zM548 336h3v1h-3zM551 337h3v1h-3zM554 338h3v1h-3zM557 339h4v1h-4zM561 340h4v1h-4zM565 341h5v1h-5zM570 342h4v1h-4zM574 343h2v1h-2zM576 344h2v1h-2zM578 345h2v1h-2zM580 346h2v1h-2zM582 347h2v1h-2zM584 348h2v1h-2zM586 349h2v1h-2zM588 350h3v1h-3zM591 351h2v1h-2zM593 352h2v1h-2zM595 353h2v1h-2zM597 354h2v1h-2zM599 355h2v1h-2zM601 356h2v1h-2zM603 357h2v1h-2zM605 358h2v1h-2zM607 359h2v1h-2zM609 360h2v1h-2zM611 361h2v1h-2zM613 362h3v1h-3zM616 363h2v1h-2zM618 364h2v1h-2zM620 365h2v1h-2zM622 366h2v1h-2zM624 367h2v1h-2zM626 368h1v1h-1zM627 369h2v1h-2zM629 370h1v1h-1zM630 371h2v1h-2zM632 372h2v1h-2zM634 373h2v1h-2zM636 374h3v1h-3zM639 375h2v1h-2zM641 376h2v1h-2zM643 377h3v1h-3zM646 378h2v1h-2zM648 379h2v1h-2zM650 380h3v1h-3zM653 381h3v1h-3zM656 382h3v1h-3zM659 383h3v1h-3zM662 384h3v1h-3zM665 385h3v1h-3zM668 386h3v1h-3zM671 387h4v1h-4zM674 388h4v1h-4zM678 389h4v1h-4zM682 390h4v1h-4zM686 391h5v1h-5zM691 392h6v1h-6zM697 393h2v1h-2z"/>
</g>
<g clip-path="url(#c3)">
<rect x="567" y="589" width="136" height="20" fill="#00bfff"/>
<path fill="#c0c0c0" d="M4 494h3v1h-3zM10 494h3v1h-3zM16 494h3v1h-3zM22 494h3v1h-3zM28 494h3v1h-3zM34 494h3v1h-3zM40 494h3v1h-3zM46 494h3v1h-3zM52 494h3v1h-3zM58 494h3v1h-3zM64 494h3v1h-3zM70 494h3v1h-3zM76 494h3v1h-3zM82 494h3v1h-3zM88 494h3v1h-3zM94 494h3v1h-3zM100 494h3v1h-3zM106 494h3v1h-3zM112 494h3v1h-3zM118 494h3v1h-3zM124 494h3v1h-3zM130 494h3v1h-3zM136 494h3v1h-3zM142 494h3v1h-3zM148 494h3v1h-3zM154 494h3v1h-3zM160 494h3v1h-3zM166 494h3v1h-3zM172 494h3v1h-3zM178 494h3v1h-3zM184 494h3v1h-3zM190 494h3v1h-3zM196 494h3v1h-3zM202 494h3v1h-3zM208 494h3v1h-3zM214 494h3v1h-3zM220 494h3v1h-3zM226 494h3v1h-3zM232 494h3v1h-3zM238 494h3v1h-3zM244 494h3v1h-3zM250 494h3v1h-3zM256 494h3v1h-3zM262 494h3v1h-3zM268 494h3v1h-3zM274 494h3v1h-3zM280 494h3v1h-3zM286 494h3v1h-3zM292 494h3v1h-3zM298 494h3v1h-3zM304 494h3v1h-3zM310 494h3v1h-3zM316 494h3v1h-3zM322 494h3v1h-3zM328 494h3v1h-3zM334 494h3v1h-3zM340 494h3v1h-3zM346 494h3v1h-3zM352 494h3v1h-3zM358 494h3v1h-3zM364 494h3v1h-3zM370 494h3v1h-3zM376 494h3v1h-3zM382 494h3v1h-3zM388 494h3v1h-3zM394 494h3v1h-3zM400 494h3v1h-3zM406 494h3v1h-3zM412 494h3v1h-3zM418 494h3v1h-3zM424 494h3v1h-3zM430 494h3v1h-3zM436 494h3v1h-3zM442 494h3v1h-3zM448 494h3v1h-3zM454 494h3v1h-3zM460 494h3v1h-3zM466 494h3v1h-3zM472 494h3v1h-3zM478 494h3v1h-3zM484 494h3v1h-3zM490 494h3v1h-3zM496 494h3v1h-3zM502 494h3v1h-3zM508 494h3v1h-3zM514 494h3v1h-3zM520 494h3v1h-3zM526 494h3v1h-3zM532 494h3v1h-3zM538 494h3v1h-3zM544 494h3v1h-3zM550 494h3v1h-3zM556 494h3v1h-3zM562 494h3v1h-3zM568 494h3v1h-3zM574 494h3v1h-3zM580 494h3v1h-3zM586 494h3v1h-3zM592 494h3v1h-3zM598 494h3v1h-3zM604 494h3v1h-3zM610 494h3v1h-3zM616 494h3v1h-3zM622 494h3v1h-3zM628 494h3v1h-3zM634 494h3v1h-3zM640 494h3v1h-3zM646 494h3v1h-3zM652 494h3v1h-3zM658 494h3v1h-3zM664 494h3v1h-3zM670 494h3v1h-3zM676 494h3v1h-3zM682 494h3v1h-3zM688 494h3v1h-3zM694 494h3v1h-3zM700 494h3v1h-3zM706 494h3v1h-3zM712 494h3v1h-3zM718 494h3v1h-3zM724 494h3v1h-3zM730 494h3v1h-3zM736 494h3v1h-3zM742 494h3v1h-3zM748 494h3v1h-3zM754 494h3v1h-3zM760 494h3v1h-3zM766 494h3v1h-3zM772 494h3v1h-3zM778 494h3v1h-3zM784 494h3v1h-3zM790 494h3v1h-3zM796 494h3v1h-3zM802 494h3v1h-3zM808 494h3v1h-3zM814 494h3v1h-3zM820 494h3v1h-3zM826 494h3v1h-3zM832 494h3v1h-3zM838 494h3v1h-3zM844 494h3v1h-3zM850 494h3v1h-3zM856 494h3v1h-3zM862 494h3v1h-3zM868 494h3v1h-3zM874 494h3v1h-3zM880 494h3v1h-3z"/>
<path fill="#c0c0c0" d="M4 583h3v1h-3zM10 583h3v1h-3zM16 583h3v1h-3zM22 583h3v1h-3zM28 583h3v1h-3zM34 583h3v1h-3zM40 583h3v1h-3zM46 583h3v1h-3zM52 583h3v1h-3zM58 583h3v1h-3zM64 583h3v1h-3zM70 583h3v1h-3zM76 583h3v1h-3zM82 583h3v1h-3zM88 583h3v1h-3zM94 583h3v1h-3zM100 583h3v1h-3zM106 583h3v1h-3zM112 583h3v1h-3zM118 583h3v1h-3zM124 583h3v1h-3zM130 583h3v1h-3zM136 583h3v1h-3zM142 583h3v1h-3zM148 583h3v1h-3zM154 583h3v1h-3zM160 583h3v1h-3zM166 583h3v1h-3zM172 583h3v1h-3zM178 583h3v1h-3zM184 583h3v1h-3zM190 583h3v1h-3zM196 583h3v1h-3zM202 583h3v1h-3zM208 583h3v1h-3zM214 583h3v1h-3zM220 583h3v1h-3zM226 583h3v1h-3zM232 583h3v1h-3zM238 583h3v1h-3zM244 583h3v1h-3zM250 583h3v1h-3zM256 583h3v1h-3zM262 583h3v1h-3zM268 583h3v1h-3zM274 583h3v1h-3zM280 583h3v1h-3zM286 583h3v1h-3zM292 583h3v1h-3zM298 583h3v1h-3zM304 583h3v1h-3zM310 583h3v1h-3zM316 583h3v1h-3zM322 583h3v1h-3zM328 583h3v1h-3zM334 583h3v1h-3zM340 583h3v1h-3zM346 583h3v1h-3zM352 583h3v1h-3zM358 583h3v1h-3zM364 583h3v1h-3zM370 583h3v1h-3zM376 583h3v1h-3zM382 583h3v1h-3zM388 583h3v1h-3zM394 583h3v1h-3zM400 583h3v1h-3zM406 583h3v1h-3zM412 583h3v1h-3zM418 583h3v1h-3zM424 583h3v1h-3zM430 583h3v1h-3zM436 583h3v1h-3zM442 583h3v1h-3zM448 583h3v1h-3zM454 583h3v1h-3zM460 583h3v1h-3zM466 583h3v1h-3zM472 583h3v1h-3zM478 583h3v1h-3zM484 583h3v1h-3zM490 583h3v1h-3zM496 583h3v1h-3zM502 583h3v1h-3zM508 583h3v1h-3zM514 583h3v1h-3zM520 583h3v1h-3zM526 583h3v1h-3zM532 583h3v1h-3zM538 583h3v1h-3zM544 583h3v1h-3zM550 583h3v1h-3zM556 583h3v1h-3zM562 583h3v1h-3zM568 583h3v1h-3zM574 583h3v1h-3zM580 583h3v1h-3zM586 583h3v1h-3zM592 583h3v1h-3zM598 583h3v1h-3zM604 583h3v1h-3zM610 583h3v1h-3zM616 583h3v1h-3zM622 583h3v1h-3zM628 583h3v1h-3zM634 583h3v1h-3zM640 583h3v1h-3zM646 583h3v1h-3zM652 583h3v1h-3zM658 583h3v1h-3zM664 583h3v1h-3zM670 583h3v1h-3zM676 583h3v1h-3zM682 583h3v1h-3zM688 583h3v1h-3zM694 583h3v1h-3zM700 583h3v1h-3zM706 583h3v1h-3zM712 583h3v1h-3zM718 583h3v1h-3zM724 583h3v1h-3zM730 583h3v1h-3zM736 583h3v1h-3zM742 583h3v1h-3zM748 583h3v1h-3zM754 583h3v1h-3zM760 583h3v1h-3zM766 583h3v1h-3zM772 583h3v1h-3zM778 583h3v1h-3zM784 583h3v1h-3zM790 583h3v1h-3zM796 583h3v1h-3zM802 583h3v1h-3zM808 583h3v1h-3zM814 583h3v1h-3zM820 583h3v1h-3zM826 583h3v1h-3zM832 583h3v1h-3zM838 583h3v1h-3zM844 583h3v1h-3zM850 583h3v1h-3zM856 583h3v1h-3zM862 583h3v1h-3zM868 583h3v1h-3zM874 583h3v1h-3zM880 583h3v1h-3z"/>
<path fill="#ff0000" d="M3 565h1v1h-1zM4 564h1v1h-1zM5 563h2v1h-2zM7 562h2v1h-2zM9 561h1v1h-1zM10 560h2v1h-2zM12 559h2v1h-2zM14 558h1v1h-1zM15 557h2v1h-2zM17 556h2v1h-2zM19 555h2v1h-2zM21 554h1v1h-1zM22 553h2v1h-2zM24 552h1v1h-1zM25 551h2v1h-2zM27 550h1v1h-1zM28 549h2v1h-2zM30 548h2v1h-2zM32 547h2v1h-2zM34 546h2v1h-2zM36 545h2v1h-2zM38 544h2v1h-2zM40 543h2v1h-2zM42 542h2v1h-2zM44 541h3v1h-3zM47 540h3v1h-3zM50 539h4v1h-4zM54 538h3v1h-3zM57 537h3v1h-3zM60 536h4v1h-4zM64 535h3v1h-3zM67 534h2v1h-2zM69 533h3v1h-3zM72 532h3v1h-3zM75 531h2v1h-2zM77 530h2v1h-2zM79 529h2v1h-2zM81 528h3v1h-3zM84 527h2v1h-2zM86 526h2v1h-2zM88 525h2v1h-2zM90 524h2v1h-2zM92 523h1v1h-1zM93 522h2v1h-2zM95 521h1v1h-1zM96 520h2v1h-2zM98 519h1v1h-1zM99 518h2v1h-2zM101 517h2v1h-2zM103 516h1v1h-1zM104 515h2v1h-2zM106 514h2v1h-2zM108 513h2v1h-2zM110 512h2v1h-2zM112 511h2v1h-2zM114 510h2v1h-2zM116 509h2v1h-2zM118 508h2v1h-2zM120 507h1v1h-1zM121 506h2v1h-2zM123 505h2v1h-2zM125 504h2v1h-2zM127 503h1v1h-1zM128 502h2v1h-2zM130 501h2v1h-2zM132 500h1v1h-1zM133 499h1v1h-1zM134 498h1v1h-1zM135 497h2v1h-2zM137 496h1v1h-1zM138 495h1v1h-1zM139 494h1v1h-1zM140 493h2v1h-2zM142 492h1v1h-1zM143 491h2v1h-2zM145 490h2v1h-2zM147 489h1v1h-1zM148 488h2v1h-2zM150 487h1v1h-1zM151 486h2v1h-2zM153 485h2v1h-2zM155 484h2v1h-2zM157 483h3v1h-3zM160 482h2v1h-2zM162 481h2v1h-2zM164 480h3v1h-3zM167 479h2v1h-2zM169 478h4v1h-4zM173 477h10v1h-10zM183 476h13v1h-13zM196 475h16v1h-16zM212 474h13v1h-13zM225 473h71v1h-71zM296 474h8v1h-8zM304 475h7v1h-7zM311 476h3v1h-3zM314 477h2v1h-2zM316 478h3v1h-3zM319 479h3v1h-3zM322 480h4v1h-4zM326 481h4v1h-4zM330 482h3v1h-3zM333 483h3v1h-3zM336 484h3v1h-3zM339 485h2v1h-2zM341 486h3v1h-3zM344 487h2v1h-2zM346 488h4v1h-4zM350 489h4v1h-4zM354 490h3v1h-3zM357 491h4v1h-4zM361 492h3v1h-3zM364 493h3v1h-3zM367 494h3v1h-3zM370 495h3v1h-3zM373 496h3v1h-3zM376 497h2v1h-2zM378 498h3v1h-3zM381 499h2v1h-2zM383 500h3v1h-3zM386 501h2v1h-2zM388 502h2v1h-2zM390 503h3v1h-3zM393 504h2v1h-2zM395 505h2v1h-2zM397 506h3v1h-3zM400 507h2v1h-2zM402 508h3v1h-3zM405 509h3v1h-3zM408 510h3v1h-3zM410 511h5v1h-5zM415 512h5v1h-5zM420 513h4v1h-4zM424 514h7v1h-7zM431 515h7v1h-7zM438 516h4v1h-4zM442 517h3v1h-3zM445 518h2v1h-2zM447 519h3v1h-3zM450 520h3v1h-3zM453 521h2v1h-2zM455 522h2v1h-2zM457 523h2v1h-2zM459 524h2v1h-2zM461 525h3v1h-3zM464 526h2v1h-2zM466 527h2v1h-2zM468 528h3v1h-3zM471 529h3v1h-3zM474 530h3v1h-3zM477 531h3v1h-3zM480 532h4v1h-4zM484 533h6v1h-6zM490 534h5v1h-5zM495 535h5v1h-5zM500 536h4v1h-4zM504 537h4v1h-4zM508 538h2v1h-2zM510 539h1v1h-1zM511 540h1v1h-1zM512 541h1v1h-1zM513 542h2v1h-2zM515 543h1v1h-1zM516 544h1v1h-1zM517 545h1v1h-1zM518 546h2v1h-2zM520 547h1v1h-1zM521 548h1v1h-1zM522 549h1v1h-1zM523 550h2v1h-2zM525 551h1v1h-1zM526 552h1v1h-1zM527 553h1v1h-1zM528 554h1v1h-1zM529 555h2v1h-2zM531 556h1v1h-1zM532 557h1v1h-1zM533 558h1v1h-1zM534 559h2v1h-2zM536 560h1v1h-1zM537 561h2v1h-2zM539 562h1v1h-1zM540 563h1v1h-1zM541 564h2v1h-2zM543 565h2v1h-2zM545 566h2v1h-2zM547 567h3v1h-3zM550 568h2v1h-2zM552 569h3v1h-3zM555 570h2v1h-2zM557 571h2v1h-2zM559 572h3v1h-3zM562 573h2v1h-2zM564 574h3v1h-3zM567 575h2v1h-2zM569 576h2v1h-2zM571 577h2v1h-2zM573 578h2v1h-2zM575 579h2v1h-2zM577 580h2v1h-2zM579 581h2v1h-2zM581 582h1v1h-1zM582 583h2v1h-2zM584 584h1v1h-1zM585 585h1v1h-1zM586 586h2v1h-2zM588 587h1v1h-1zM589 588h1v1h-1zM590 589h2v1h-2zM592 590h2v1h-2zM594 591h2v1h-2zM596 592h2v1h-2zM598 593h3v1h-3zM601 594h3v1h-3zM604 595h2v1h-2zM606 596h4v1h-4zM610 597h5v1h-5zM615 598h6v1h-6zM621 599h6v1h-6zM627 600h15v1h-15zM642 601h20v1h-20zM662 600h6v1h-6zM668 599h4v1h-4zM672 598h4v1h-4zM676 597h4v1h-4zM680 596h4v1h-4zM684 595h4v1h-4zM688 594h3v1h-3zM691 593h3v1h-3zM694 592h2v1h-2zM696 591h3v1h-3z"/>
<path fill="#000080" d="M3 554h1v1h-1zM4 553h2v1h-2zM6 552h2v1h-2zM8 551h2v1h-2zM10 550h3v1h-3zM12 549h2v1h-2zM14 548h1v1h-1zM15 547h2v1h-2zM17 546h1v1h-1zM18 545h2v1h-2zM20 544h2v1h-2zM22 543h2v1h-2zM24 542h2v1h-2zM26 541h3v1h-3zM29 540h2v1h-2zM31 539h3v1h-3zM34 538h5v1h-5zM39 537h5v1h-5zM44 536h2v1h-2zM46 535h2v1h-2zM48 534h7v1h-7zM55 533h4v1h-4zM59 532h2v1h-2zM61 531h1v1h-1zM62 530h2v1h-2zM64 529h1v1h-1zM65 528h2v1h-2zM67 527h1v1h-1zM68 526h2v1h-2zM70 525h1v1h-1zM71 524h2v1h-2zM73 523h2v1h-2zM75 522h1v1h-1zM76 521h2v1h-2zM78 520h1v1h-1zM79 519h2v1h-2zM81 518h1v1h-1zM82 517h2v1h-2zM84 516h1v1h-1zM85 515h2v1h-2zM86 514h3v1h-3zM89 513h2v1h-2zM91 512h2v1h-2zM93 511h2v1h-2zM95 510h2v1h-2zM96 509h3v1h-3zM99 508h2v1h-2zM101 507h2v1h-2zM103 506h3v1h-3zM106 505h1v1h-1zM107 504h2v1h-2zM109 503h2v1h-2zM111 502h2v1h-2zM113 501h2v1h-2zM115 500h2v1h-2zM117 499h3v1h-3zM120 498h1v1h-1zM121 497h1v1h-1zM122 496h1v1h-1zM123 495h1v1h-1zM124 494h1v1h-1zM125 493h1v1h-1zM126 492h2v1h-2zM127 491h1v1h-1zM128 490h1v1h-1zM129 489h1v1h-1zM130 488h1v1h-1zM131 487h1v1h-1zM132 486h1v1h-1zM133 485h2v1h-2zM135 484h1v1h-1zM136 483h1v1h-1zM137 482h1v1h-1zM138 481h1v1h-1zM139 480h1v1h-1zM140 479h2v1h-2zM142 478h6v1h-6zM148 479h1v1h-1zM149 478h4v1h-4zM153 477h3v1h-3zM156 476h11v1h-11zM167 477h1v1h-1zM168 476h5v1h-5zM173 475h4v1h-4zM177 476h12v1h-12zM189 475h16v1h-16zM205 474h9v1h-9zM214 473h2v1h-2zM216 472h22v1h-22zM238 473h13v1h-13zM251 472h23v1h-23zM274 473h5v1h-5zM279 474h6v1h-6zM285 475h4v1h-4zM289 476h5v1h-5zM294 477h6v1h-6zM300 478h3v1h-3zM303 479h3v1h-3zM306 480h2v1h-2zM308 481h4v1h-4zM312 482h3v1h-3zM315 483h2v1h-2zM317 484h3v1h-3zM320 485h3v1h-3zM323 486h2v1h-2zM325 487h2v1h-2zM327 488h2v1h-2zM329 489h2v1h-2zM331 490h2v1h-2zM333 491h6v1h-6zM339 492h10v1h-10zM349 493h3v1h-3zM352 494h3v1h-3zM355 495h3v1h-3zM358 496h3v1h-3zM361 497h1v1h-1zM362 498h2v1h-2zM364 499h2v1h-2zM366 500h1v1h-1zM367 501h2v1h-2zM369 502h2v1h-2zM371 503h1v1h-1zM372 504h3v1h-3zM375 505h2v1h-2zM377 506h2v1h-2zM379 507h3v1h-3zM382 508h3v1h-3zM385 509h3v1h-3zM388 510h2v1h-2zM390 511h4v1h-4zM394 512h4v1h-4zM398 513h4v1h-4zM402 514h12v1h-12zM414 515h9v1h-9zM423 516h4v1h-4zM427 517h4v1h-4zM431 518h4v1h-4zM435 519h2v1h-2zM437 520h3v1h-3zM440 521h2v1h-2zM442 522h1v1h-1zM443 523h2v1h-2zM445 524h1v1h-1zM446 525h1v1h-1zM447 526h1v1h-1zM448 527h2v1h-2zM450 528h1v1h-1zM451 529h1v1h-1zM452 530h1v1h-1zM453 531h2v1h-2zM455 532h1v1h-1zM456 533h3v1h-3zM459 534h4v1h-4zM463 535h3v1h-3zM466 536h2v1h-2zM468 535h4v1h-4zM472 534h4v1h-4zM476 533h11v1h-11zM487 534h1v1h-1zM488 535h2v1h-2zM490 536h2v1h-2zM492 537h1v1h-1zM493 538h2v1h-2zM495 539h1v1h-1zM496 540h2v1h-2zM498 541h1v1h-1zM499 542h1v1h-1zM500 543h1v1h-1zM501 544h1v1h-1zM502 545h1v1h-1zM503 546h1v1h-1zM504 547h1v1h-1zM505 548h1v1h-1zM506 549h1v2h-1zM507 551h1v1h-1zM508 552h1v1h-1zM509 553h1v1h-1zM510 554h1v2h-1zM511 556h1v1h-1zM512 557h1v1h-1zM513 558h1v1h-1zM514 559h1v1h-1zM515 560h1v1h-1zM516 561h1v1h-1zM517 562h2v1h-2zM519 563h1v1h-1zM520 564h2v1h-2zM522 565h2v1h-2zM524 566h2v1h-2zM526 567h1v1h-1zM527 568h2v1h-2zM529 569h2v1h-2zM531 570h4v1h-4zM535 571h6v1h-6zM541 572h3v1h-3zM544 573h5v1h-5zM549 574h5v1h-5zM553 575h1v1h-1zM554 576h1v1h-1zM555 577h1v1h-1zM556 578h2v1h-2zM558 579h1v1h-1zM559 580h1v1h-1zM559 581h2v1h-2zM561 582h1v1h-1zM562 583h1v1h-1zM563 584h1v1h-1zM564 585h2v1h-2zM566 586h1v1h-1zM567 587h1v1h-1zM568 588h1v1h-1zM569 589h1v1h-1zM570 590h2v1h-2zM572 591h2v1h-2zM574 592h2v1h-2zM576 593h2v1h-2zM578 594h2v1h-2zM580 595h2v1h-2zM582 596h3v1h-3zM585 597h3v1h-3zM588 598h6v1h-6zM594 599h22v1h-22zM616 600h8v1h-8zM624 601h3v1h-3zM627 602h4v1h-4zM631 603h7v1h-7zM638 602h3v1h-3zM641 601h3v1h-3zM643 600h6v1h-6zM649 599h4v1h-4zM653 598h4v1h-4zM657 597h3v1h-3zM660 596h4v1h-4zM664 595h4v1h-4zM668 594h8v1h-8zM676 593h2v1h-2zM678 592h3v1h-3zM681 591h2v1h-2zM683 590h2v1h-2zM685 589h3v1h-3zM688 588h2v1h-2zM690 587h2v1h-2zM692 586h3v1h-3zM695 585h2v1h-2zM697 584h2v1h-2z"/>
</g>
<g fill="none" stroke="#000" stroke-width="1">
<rect x="2.5" y="2.5" width="884" height="305"/>
<rect x="2.5" y="309.5" width="884" height="152"/>
<rect x="2.5" y="463.5" width="884" height="150"/>
</g>
<path fill="#000" d="M887 7h2v1h-2zM887 40h2v1h-2zM887 73h2v1h-2zM887 106h2v1h-2zM887 139h2v1h-2zM887 172h2v1h-2zM887 205h2v1h-2zM887 238h2v1h-2zM887 271h2v1h-2zM887 304h2v1h-2zM887 311h1v1h-1zM887 380h1v1h-1zM887 460h1v1h-1zM887 465h1v1h-1zM887 494h1v1h-1zM887 583h1v1h-1zM887 612h1v1h-1zM3 614h1v3h-1zM67 614h1v3h-1zM131 614h1v3h-1zM195 614h1v3h-1zM259 614h1v3h-1zM323 614h1v3h-1zM387 614h1v3h-1zM451 614h1v3h-1zM515 614h1v3h-1zM579 614h1v3h-1zM643 614h1v3h-1z"/>
<text x="891.7" y="10.6" font-size="10" fill="#000" stroke="#000" stroke-width="0.2" textLength="23.6" lengthAdjust="spacingAndGlyphs" class="aa">6.665</text>
<text x="891.7" y="43.6" font-size="10" fill="#000" stroke="#000" stroke-width="0.2" textLength="23.6" lengthAdjust="spacingAndGlyphs" class="aa">6.430</text>
<text x="891.7" y="76.6" font-size="10" fill="#000" stroke="#000" stroke-width="0.2" textLength="23.6" lengthAdjust="spacingAndGlyphs" class="aa">6.200</text>
<text x="891.7" y="109.6" font-size="10" fill="#000" stroke="#000" stroke-width="0.2" textLength="23.6" lengthAdjust="spacingAndGlyphs" class="aa">5.970</text>
<text x="891.7" y="142.6" font-size="10" fill="#000" stroke="#000" stroke-width="0.2" textLength="23.6" lengthAdjust="spacingAndGlyphs" class="aa">5.735</text>
<text x="891.7" y="175.6" font-size="10" fill="#000" stroke="#000" stroke-width="0.2" textLength="23.6" lengthAdjust="spacingAndGlyphs" class="aa">5.505</text>
<text x="891.7" y="208.6" font-size="10" fill="#000" stroke="#000" stroke-width="0.2" textLength="23.6" lengthAdjust="spacingAndGlyphs" class="aa">5.275</text>
<text x="891.7" y="241.6" font-size="10" fill="#000" stroke="#000" stroke-width="0.2" textLength="23.6" lengthAdjust="spacingAndGlyphs" class="aa">5.040</text>
<text x="891.7" y="274.6" font-size="10" fill="#000" stroke="#000" stroke-width="0.2" textLength="23.6" lengthAdjust="spacingAndGlyphs" class="aa">4.810</text>
<text x="891.7" y="307.6" font-size="10" fill="#000" stroke="#000" stroke-width="0.2" textLength="23.6" lengthAdjust="spacingAndGlyphs" class="aa">4.575</text>
<rect x="888" y="182" width="31" height="11" fill="#000"/>
<text x="891.5" y="191" font-size="10" fill="#fff" stroke="#fff" stroke-width="0.2" textLength="24" lengthAdjust="spacingAndGlyphs" class="aa">5.401</text>
<text x="889.8" y="320" font-size="10" fill="#000" stroke="#000" stroke-width="0.2" textLength="34.2" lengthAdjust="spacingAndGlyphs" class="aa">0.33479</text>
<text x="889.5" y="384" font-size="10" fill="#000" stroke="#000" stroke-width="0.2" textLength="19" lengthAdjust="spacingAndGlyphs" class="aa">0.00</text>
<text x="890" y="458" font-size="10" fill="#000" stroke="#000" stroke-width="0.2" textLength="38" lengthAdjust="spacingAndGlyphs" class="aa">-0.38912</text>
<text x="889.5" y="474" font-size="10" fill="#000" stroke="#000" stroke-width="0.2" textLength="15.5" lengthAdjust="spacingAndGlyphs" class="aa">100</text>
<text x="889.5" y="498" font-size="10" fill="#000" stroke="#000" stroke-width="0.2" textLength="10.5" lengthAdjust="spacingAndGlyphs" class="aa">80</text>
<text x="889.5" y="587" font-size="10" fill="#000" stroke="#000" stroke-width="0.2" textLength="10.5" lengthAdjust="spacingAndGlyphs" class="aa">20</text>
<text x="889.5" y="610" font-size="10" fill="#000" stroke="#000" stroke-width="0.2" textLength="5.5" lengthAdjust="spacingAndGlyphs" class="aa">0</text>
<path fill="#000" d="M6 9h7l-3.5 4z"/>
<text x="18" y="14" font-size="10" fill="#000" stroke="#000" stroke-width="0.2" textLength="55.5" lengthAdjust="spacingAndGlyphs" class="aa">EOSUSD,H1</text>
<text x="79.2" y="14" font-size="10" fill="#000" stroke="#000" stroke-width="0.2" textLength="101" lengthAdjust="spacingAndGlyphs" class="aa">5.360 5.427 5.360 5.401</text>
<text x="7.4" y="322" font-size="10" fill="#000" stroke="#000" stroke-width="0.2" textLength="37" lengthAdjust="spacingAndGlyphs" class="aa">MACD-2</text>
<text x="46.9" y="322" font-size="10" fill="#000" stroke="#000" stroke-width="0.2" textLength="47.5" lengthAdjust="spacingAndGlyphs" class="aa">(50,150,25)</text>
<text x="96.6" y="322" font-size="10" fill="#000" stroke="#000" stroke-width="0.2" textLength="36" lengthAdjust="spacingAndGlyphs" class="aa">-0.13164</text>
<text x="135.8" y="322" font-size="10" fill="#000" stroke="#000" stroke-width="0.2" textLength="34" lengthAdjust="spacingAndGlyphs" class="aa">0.00000</text>
<text x="171.8" y="322" font-size="10" fill="#000" stroke="#000" stroke-width="0.2" textLength="37" lengthAdjust="spacingAndGlyphs" class="aa">-0.10923</text>
<text x="210.8" y="322" font-size="10" fill="#000" stroke="#000" stroke-width="0.2" textLength="37" lengthAdjust="spacingAndGlyphs" class="aa">-0.06535</text>
<text x="7.2" y="476" font-size="10" fill="#000" stroke="#000" stroke-width="0.2" textLength="65" lengthAdjust="spacingAndGlyphs" class="aa">Stoch(50,10,25)</text>
<text x="75.2" y="476" font-size="10" fill="#000" stroke="#000" stroke-width="0.2" textLength="33.5" lengthAdjust="spacingAndGlyphs" class="aa">19.2574</text>
<text x="111.1" y="476" font-size="10" fill="#000" stroke="#000" stroke-width="0.2" textLength="33.5" lengthAdjust="spacingAndGlyphs" class="aa">14.5399</text>
<text x="2.3" y="625.5" font-size="10" fill="#000" stroke="#000" stroke-width="0.2" textLength="51.3" lengthAdjust="spacingAndGlyphs" class="aa">19 Sep 2018</text>
<text x="66.3" y="625.5" font-size="10" fill="#000" stroke="#000" stroke-width="0.2" textLength="55" lengthAdjust="spacingAndGlyphs" class="aa">19 Sep 23:00</text>
<text x="130.3" y="625.5" font-size="10" fill="#000" stroke="#000" stroke-width="0.2" textLength="55" lengthAdjust="spacingAndGlyphs" class="aa">20 Sep 15:00</text>
<text x="194.3" y="625.5" font-size="10" fill="#000" stroke="#000" stroke-width="0.2" textLength="55" lengthAdjust="spacingAndGlyphs" class="aa">21 Sep 07:00</text>
<text x="258.3" y="625.5" font-size="10" fill="#000" stroke="#000" stroke-width="0.2" textLength="55" lengthAdjust="spacingAndGlyphs" class="aa">21 Sep 23:00</text>
<text x="322.3" y="625.5" font-size="10" fill="#000" stroke="#000" stroke-width="0.2" textLength="55" lengthAdjust="spacingAndGlyphs" class="aa">22 Sep 15:00</text>
<text x="386.3" y="625.5" font-size="10" fill="#000" stroke="#000" stroke-width="0.2" textLength="55" lengthAdjust="spacingAndGlyphs" class="aa">23 Sep 07:00</text>
<text x="450.3" y="625.5" font-size="10" fill="#000" stroke="#000" stroke-width="0.2" textLength="55" lengthAdjust="spacingAndGlyphs" class="aa">23 Sep 23:00</text>
<text x="514.3" y="625.5" font-size="10" fill="#000" stroke="#000" stroke-width="0.2" textLength="55" lengthAdjust="spacingAndGlyphs" class="aa">24 Sep 15:00</text>
<text x="578.3" y="625.5" font-size="10" fill="#000" stroke="#000" stroke-width="0.2" textLength="55" lengthAdjust="spacingAndGlyphs" class="aa">25 Sep 07:00</text>
<text x="642.3" y="625.5" font-size="10" fill="#000" stroke="#000" stroke-width="0.2" textLength="55" lengthAdjust="spacingAndGlyphs" class="aa">25 Sep 23:00</text>
<g class="aa" fill="#10509f">
<path d="M6.3 17.5H29.5Q33.5 17.5 33.5 21.5V29.2Q33.5 32.7 29.8 32.7H19V28H28.4V23.1H12.9V43H6.3Z"/>
<path d="M19 37.3H27.6L31 41.6V43H19Z"/>
</g></svg>
</body>
</html>
